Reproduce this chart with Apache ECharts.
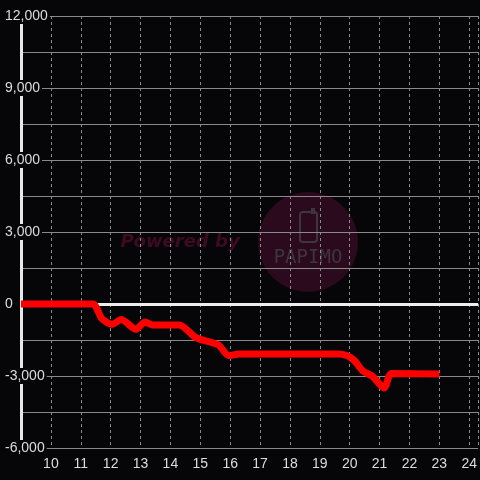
<!DOCTYPE html>
<html>
<head>
<meta charset="utf-8">
<script src="https://cdn.jsdelivr.net/npm/echarts@6/dist/echarts.min.js"></script>
<style>
  html, body { margin: 0; padding: 0; background: #060608; }
  #chart { width: 480px; height: 480px; }
</style>
</head>
<body>
<div id="chart"></div>
<script>
// values
var xValues = [9, 11.4, 11.7, 12.05, 12.35, 12.85, 13.15, 13.4, 14.3, 14.85, 15.6, 15.95, 16.3, 19.6, 19.9, 20.15, 20.45, 20.75, 21.15, 21.4, 23];
var yValues = [0, 0, -600, -850, -650, -1050, -750, -870, -870, -1400, -1700, -2150, -2080, -2080, -2150, -2350, -2800, -3000, -3500, -2900, -2920];
var yTicks = [-6000, -3000, 0, 3000, 6000, 9000, 12000];

var myChart = echarts.init(document.getElementById('chart'));

var lineData = xValues.map(function (x, i) { return [x, yValues[i]]; });

var option = {
  backgroundColor: '#060608',
  animation: false,
  grid: { left: 21, right: 0, top: 16, bottom: 32 },
  graphic: [
    { type: 'circle', z: -10, shape: { cx: 308, cy: 242, r: 50 }, style: { fill: '#2a0a1c' } },
    { type: 'rect', z: -9, shape: { x: 300, y: 212, width: 17, height: 30, r: 3 }, style: { fill: 'none', stroke: '#3e363c', lineWidth: 2 } },
    { type: 'rect', z: -9, shape: { x: 311, y: 208, width: 4, height: 6 }, style: { fill: '#3e363c' } },
    { type: 'text', z: -9, style: { x: 308, y: 258, text: 'PAPIMO', fill: '#3e363c', font: '19px "DejaVu Sans Mono"', align: 'center', verticalAlign: 'middle' } },
    { type: 'text', z: -9, style: { x: 180, y: 242, text: 'Powered by', fill: '#3e0a22', font: 'italic bold 18px "DejaVu Sans"', align: 'center', verticalAlign: 'middle' } }
  ],
  xAxis: {
    type: 'value',
    min: 9,
    max: 24.3,
    interval: 1,
    axisLine: { show: false },
    axisTick: { show: false },
    axisLabel: {
      color: '#dddddd',
      fontSize: 14,
      margin: 9,
      showMinLabel: false,
      showMaxLabel: false
    },
    splitLine: {
      show: true,
      lineStyle: { color: '#8a8a8a', type: [3, 3], width: 1 }
    }
  },
  yAxis: {
    type: 'value',
    min: -6000,
    max: 12000,
    interval: 1500,
    axisLine: { show: true, onZero: false, lineStyle: { color: '#e8e8e8', width: 3 } },
    axisTick: { show: false },
    axisLabel: {
      color: '#dddddd',
      fontSize: 14,
      align: 'left',
      margin: 16,
      backgroundColor: '#060608',
      padding: [1, 2, 1, 0],
      formatter: function (v) {
        if (yTicks.indexOf(v) < 0) return '';
        return v.toLocaleString('en-US');
      }
    },
    splitLine: {
      show: true,
      lineStyle: { color: '#8a8a8a', width: 1 }
    }
  },
  series: [{
    type: 'line',
    data: lineData,
    smooth: 0.25,
    showSymbol: false,
    lineStyle: { color: '#ff0000', width: 7 },
    z: 5,
    markLine: {
      silent: true,
      symbol: 'none',
      label: { show: false },
      lineStyle: { color: '#eeeeee', width: 3, type: 'solid' },
      data: [{ yAxis: 0 }],
      z: 3
    }
  }]
};

myChart.setOption(option);
</script>
</body>
</html>
